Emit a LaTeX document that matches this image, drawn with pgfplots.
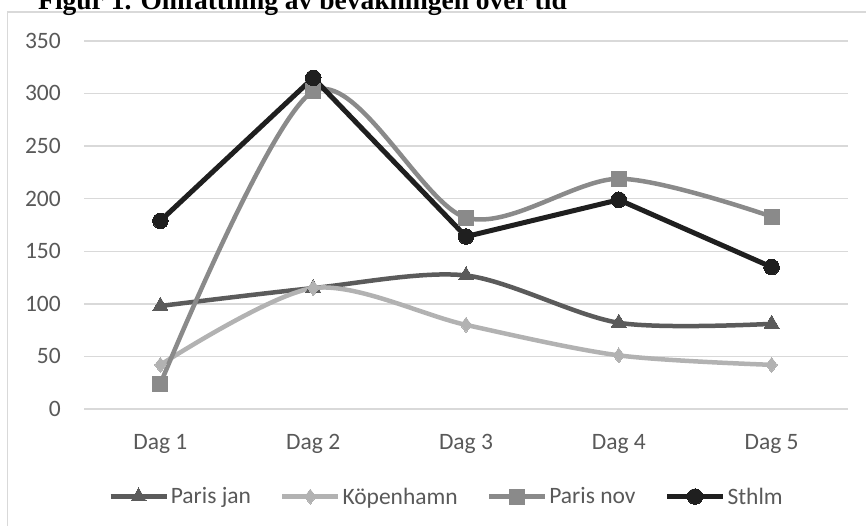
\documentclass[border=0pt]{standalone}
\usepackage{pgfplots}
\pgfplotsset{compat=1.18}
\usepackage{fontspec}
\setmainfont{Carlito}
\newfontfamily\titlefont{Liberation Serif}
\definecolor{parisjan}{HTML}{5B5B5B}
\definecolor{kopen}{HTML}{B2B2B2}
\definecolor{parisnov}{HTML}{8A8A8A}
\definecolor{sthlm}{HTML}{1F1F1F}
\definecolor{gridgray}{HTML}{D9D9D9}
\definecolor{tickgray}{HTML}{595959}
\newcommand\tickfont{\fontsize{23.5bp}{28bp}\selectfont}
\begin{document}
\begin{tikzpicture}[x=1bp,y=1bp]
\draw[color=gridgray, line width=1.2bp] (7.5bp,-700bp) -- (7.5bp,-12bp) -- (1000bp,-12bp);
\node[anchor=base west, inner sep=0pt, font=\titlefont\bfseries\fontsize{27.5bp}{33bp}\selectfont] at (38bp,-9.5bp) {Figur 1. Omfattning av bevakningen över tid};
\begin{axis}[
  at={(84bp,-409bp)}, anchor=south west,
  scale only axis, width=764bp, height=368bp,
  xmin=-0.5, xmax=4.5, ymin=0, ymax=350,
  xtick={0,1,2,3,4}, xticklabels={Dag 1,Dag 2,Dag 3,Dag 4,Dag 5},
  ytick={0,50,...,350},
  ymajorgrids, grid style={color=gridgray, line width=1.4bp},
  axis line style={draw=none}, major tick length=0pt,
  /pgf/number format/assume math mode=true,
  tick label style={font=\tickfont, text=tickgray},
  x tick label style={anchor=base, yshift=-40.5bp, inner sep=0pt},
  y tick label style={anchor=base east, xshift=-23bp, yshift=-7.4bp, inner sep=0pt},
  clip=false,
  legend style={at={(0.4745,-0.238)}, anchor=center, draw=none, fill=none,
    legend columns=-1, font=\tickfont, text=tickgray,
    /tikz/every even column/.append style={column sep=27bp},
    nodes={inner xsep=2bp, inner ysep=1bp}},
  legend image code/.code={\draw[mark repeat=2,mark phase=2,#1] plot coordinates {(0bp,0bp) (28bp,0bp) (56bp,0bp)};},
]
\addplot[color=parisjan, line width=4.5bp, smooth, mark=triangle*, mark size=8.7bp, mark options={solid, line width=0pt}]
  coordinates {(0,98) (1,115) (2,127) (3,82) (4,81)};
\addlegendentry{Paris jan}
\addplot[color=kopen, line width=4.5bp, smooth, mark=diamond*, mark size=7.5bp, mark options={solid, line width=0pt}]
  coordinates {(0,42) (1,115) (2,80) (3,51) (4,42)};
\addlegendentry{Köpenhamn}
\addplot[color=parisnov, line width=4.5bp, smooth, mark=square*, mark size=7.5bp, mark options={solid, line width=0pt}]
  coordinates {(0,24) (1,302) (2,182) (3,219) (4,183)};
\addlegendentry{Paris nov}
\addplot[color=sthlm, line width=5bp, mark=*, mark size=7.8bp, mark options={solid, line width=0pt}]
  coordinates {(0,179) (1,315) (2,164) (3,199) (4,135)};
\addlegendentry{Sthlm}
\end{axis}
\pgfresetboundingbox
\path[use as bounding box] (0,0) rectangle (866bp,-526bp);
\end{tikzpicture}
\end{document}
